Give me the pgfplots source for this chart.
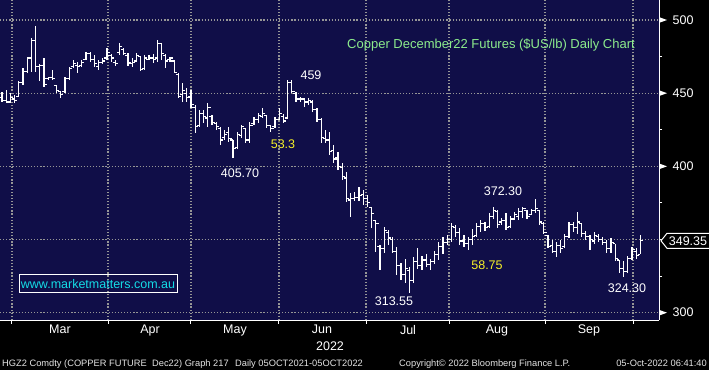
\documentclass[border=0pt]{standalone}
\usepackage{fontspec}
\setmainfont{Liberation Sans}
\usepackage{pgfplots}
\pgfplotsset{compat=1.18}
\usepackage{pgfplotstable}
\definecolor{bbnavy}{RGB}{16,14,72}
\definecolor{gridgray}{RGB}{150,150,150}
\definecolor{ttlgreen}{RGB}{140,235,140}
\definecolor{urlcyan}{RGB}{20,220,230}
\definecolor{annyellow}{RGB}{245,240,40}
\definecolor{footgray}{RGB}{228,228,228}
\newcommand\fs[1]{\fontsize{#1}{#1}\selectfont}
\pgfdeclareplotmark{ohlcopen}{\pgfpathmoveto{\pgfpoint{-2.7bp}{0pt}}\pgfpathlineto{\pgfpoint{0pt}{0pt}}\pgfusepathqstroke}
\pgfdeclareplotmark{ohlcclose}{\pgfpathmoveto{\pgfpoint{0pt}{0pt}}\pgfpathlineto{\pgfpoint{2.7bp}{0pt}}\pgfusepathqstroke}

\pgfplotstableread{
i o h l c
0 447 451 444 445
1 445 452 443.5 444
2 444 450 443 447
3 446 449 443.5 445
4 448 458 447.6 457.5
5 457 467 455.6 465
6 465 475 463.6 474
7 474 487.5 464.7 486
8 486 496 464.7 468
9 468 470 458 469
10 469 474 454.4 456
11 460 461 459 460.5
12 461 466 459 460
13 455 455.6 450 452
14 451 451.7 447 449
15 451 461 450.3 460
16 460 468 459 467
17 468 473 467 470
18 469 471.5 464 468
19 469 472.7 468 471
20 473 478 472.7 477
21 477 478 471.5 473
22 473 476 468 470
23 468 472.7 466 471
24 471 474 470 472
25 474 480.6 473 478
26 476 477 471.5 474
27 471 473 468.6 470
28 477.5 484 476 482
29 480 480.6 476 477
30 476 477.2 468.6 471
31 470 473.8 468 471
32 472 477.2 471.5 476
33 475 475.4 465.4 466
34 467 476.1 466 474
35 473 476 472.7 474
36 474 476.8 470.4 473
37 474 486.3 471.5 484
38 484 484.5 472.7 477
39 476 476.5 467 472
40 473 475 471.5 474
41 472 472.7 463.6 464
42 463 463.6 446.5 448
43 449 456.7 444.2 452
44 450 453.3 444.2 447
45 448 452 439.7 442
46 440 441.9 423 427
47 428 438.5 427 436
48 436 438.5 429.4 434
49 433 443 427 440
50 434 435 428.3 430
51 429 430.5 424.8 427
52 426 427 414.6 418
53 420 424.8 418 422
54 423 427 416.9 419
55 418 418 405.7 412
56 413 423.7 412 422
57 421 428.3 419.1 427
58 426 426 415.7 418
59 418 430.5 415.7 428
60 429 434 428.3 432
61 432 436.2 429.4 435
62 434 439.6 433 436
63 435 435 426 428
64 428 428.3 423.7 426
65 427 434 426 432
66 432 439.6 431.7 436
67 434 436 429.4 431
68 433 459 432.8 457
69 457 459 450 451
70 450 451 444.2 446
71 446 447.6 444.2 446
72 446 447 440.8 444
73 444 446.5 442 445
74 444 445.3 437.4 439
75 439 439.6 430.5 432
76 432 432.8 415.7 420
77 419 424.8 415.7 418
78 418 423.7 407.7 410
79 411 414.6 402 405
80 406 410 397.5 400
81 399 402 390.7 393
82 392 396.4 375.9 378
83 377 381.6 365.6 378
84 378 382.7 376 379
85 379 386 376 380
86 381 384 373.6 378
87 378 380.4 372.4 375
88 372 372.4 357.6 368
89 363 363.3 341.7 361
90 345 346.2 329.2 344
91 344 358.8 340.5 356
92 355 356.5 346.2 351
93 350 352 340.5 342
94 342 345 325.7 332
95 332 333.7 322.3 326
96 326 337 320 330
97 329 331 313.55 322
98 322 338 320 335
99 335 344 330 332
100 332 339 329 336
101 336 340 331 333
102 333 337 329 335
103 335 342 333 340
104 340 348 336 345
105 345 352 340 348
106 348 353 346 350
107 350 361 348 359
108 358 360 352 355
109 355 358 346 349
110 349 353 345 347
111 347 352 343 350
112 350 357 346 352
113 353 361 352 359
114 359 363 355 361
115 361 362 356 358
116 359 368 358 366
117 366 372.3 364 370
118 369 370 358 360
119 362 365 360 363
120 363 368 356.5 358
121 359 366 358 364
122 364 369 363 367
123 366 371.3 363 369
124 369 372.4 365 371
125 370 370 364 366
126 367 371 366.5 370
127 370 378 368 371
128 370 370 360 362
129 361 362 354 355
130 353 353 344 345
131 346 350 340.6 342
132 342 348.5 338.3 346
133 346 350 341 344
134 345 354 344 352
135 352 362 351 360
136 360 362 355 358
137 358 369 354 362
138 361 361 352 354
139 354 356 350 352
140 352 353 342.8 350
141 349 355 347 353
142 352 354 348 350
143 350 352 346 348
144 348 350 340.6 344
145 344 351 341 348
146 347 347 335 337
147 336 336 327 330
148 330 335 324.3 328
149 328 339 327 337
150 337 345 336 343
151 342 344 337 339
152 340 353 340 349.35
}\ohlc

\begin{document}
\begin{tikzpicture}
\path[use as bounding box] (0,0) rectangle (709bp,370bp);
\fill[black] (0,0) rectangle (709bp,370bp);
\begin{axis}[
  at={(0,50bp)}, anchor=south west,
  width=659bp, height=320bp, scale only axis,
  xmin=-0.476, xmax=156.43, ymin=295.0, ymax=513.67,
  axis background/.style={fill=bbnavy},
  axis x line*=bottom, axis y line*=right,
  axis line style={white, line width=1bp, -},
  tick align=outside,
  major tick length=3.5bp, minor tick length=3bp,
  tick style={white, line width=1bp},
  xtick={2.38,25.24,45,65.95,86.67,106.43,129.29,150.24},
  xticklabels={},
  extra x ticks={13.8,35.24,55.48,76.19,96.67,117.86,139.76},
  extra x tick labels={Mar,Apr,May,Jun,Jul,Aug,Sep},
  extra x tick style={grid=none, major tick length=0pt,
     xticklabel style={anchor=north, inner sep=0pt, yshift=-5bp}},
  ytick={300,350,400,450,500},
  yticklabels={300,,400,450,500},
  minor ytick={325,375,425,475},
  yticklabel pos=right,
  yticklabel style={anchor=west, inner sep=0pt, xshift=10bp},
  tick label style={font=\fs{12.5bp}, text=white},
  /pgf/number format/assume math mode=true,
  xmajorgrids, ymajorgrids,
  grid style={gridgray, line width=1.2bp, dash pattern=on 1.2bp off 1.9bp},
]
\addplot[draw=none, mark=none, forget plot,
  error bars/.cd, y dir=both, y explicit, error mark=none,
  error bar style={draw=white, line width=1.1bp, solid}]
  table[x=i, y expr={(\thisrow{h}+\thisrow{l})/2}, y error expr={(\thisrow{h}-\thisrow{l})/2}] {\ohlc};
\addplot[only marks, white, mark=ohlcopen, mark options={line width=1.1bp, solid}] table[x=i, y=o] {\ohlc};
\addplot[only marks, white, mark=ohlcclose, mark options={line width=1.1bp, solid}] table[x=i, y=c] {\ohlc};
\end{axis}
% tick triangles on the price axis
\foreach \yy in {350,276.82,203.65,57.3}{
  \fill[white] (659.5bp,\yy bp+2.7bp) -- (667bp,\yy bp) -- (659.5bp,\yy bp-2.7bp) -- cycle;
}
% last price box
\draw[white, line width=1bp, fill=black] (661bp,129.2bp) -- (667bp,136.7bp) -- (709.5bp,136.7bp) -- (709.5bp,121.7bp) -- (667bp,121.7bp) -- cycle;
\node[text=white, font=\fs{12.5bp}, inner sep=0pt] at (688bp,129.2bp) {349.35};
% annotations
\node[text=ttlgreen, font=\fs{13bp}, inner sep=0pt] at (491bp,325bp) {Copper December22 Futures (\$US/lb) Daily Chart};
\node[text=white, font=\fs{12.5bp}, inner sep=0pt] at (311bp,295bp) {459};
\node[text=annyellow, font=\fs{12.5bp}, inner sep=0pt] at (283bp,226bp) {53.3};
\node[text=white, font=\fs{12.5bp}, inner sep=0pt] at (240bp,197bp) {405.70};
\node[text=white, font=\fs{12.5bp}, inner sep=0pt] at (394bp,69bp) {313.55};
\node[text=white, font=\fs{12.5bp}, inner sep=0pt] at (503bp,179bp) {372.30};
\node[text=annyellow, font=\fs{12.5bp}, inner sep=0pt] at (487bp,105bp) {58.75};
\node[text=white, font=\fs{12.5bp}, inner sep=0pt] at (627bp,82bp) {324.30};
\node[draw=white, line width=1bp, text=urlcyan, font=\fs{12.5bp}, inner sep=0pt, minimum width=158bp, minimum height=18bp] at (98bp,86bp) {www.marketmatters.com.au};
% year label
\node[text=white, font=\fs{12.5bp}, inner sep=0pt] at (330bp,23.5bp) {2022};
% footer
\begin{scope}[every node/.style={text=footgray, font=\fs{9.3bp}, inner sep=0pt, anchor=base west}]
\node at (2bp,4bp) {HGZ2 Comdty (COPPER FUTURE};
\node at (152bp,4bp) {Dec22) Graph 217};
\node at (235bp,4bp) {Daily 05OCT2021-05OCT2022};
\node at (399bp,4bp) {Copyright© 2022 Bloomberg Finance L.P.};
\node[anchor=base east] at (707bp,4bp) {05-Oct-2022 06:41:40};
\end{scope}
\end{tikzpicture}
\end{document}
